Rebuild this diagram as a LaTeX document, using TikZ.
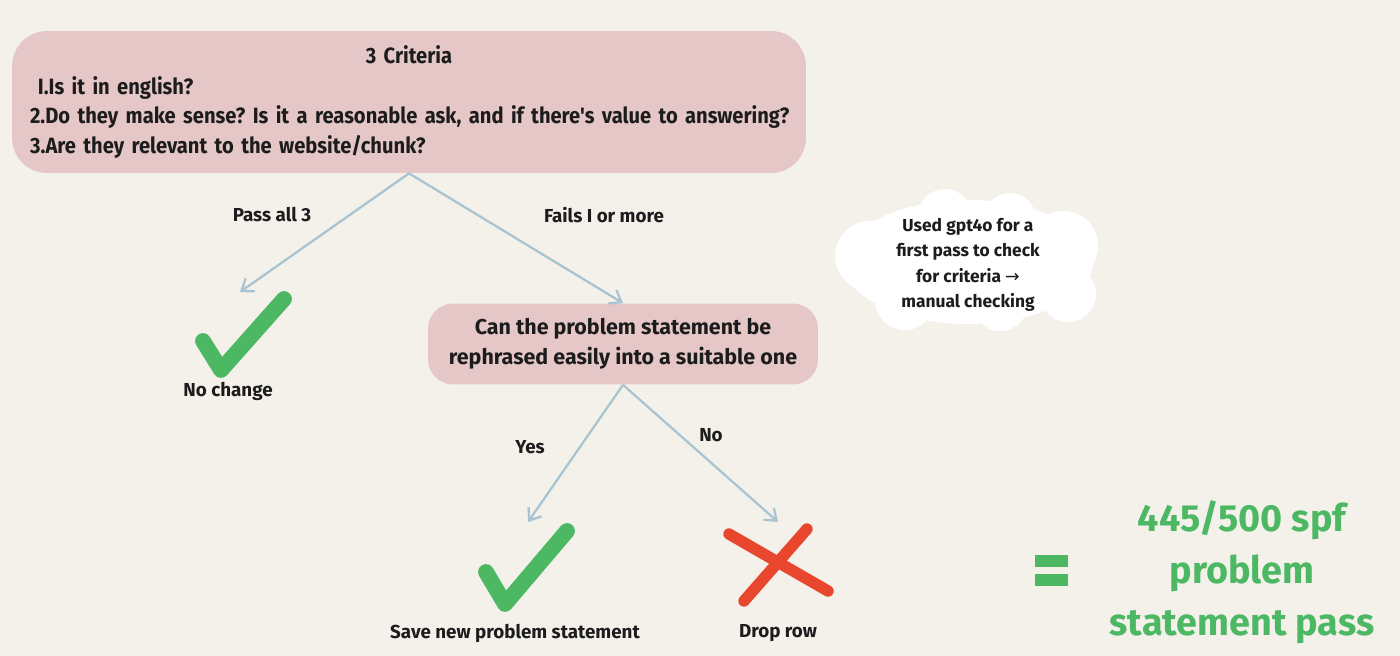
\documentclass[tikz,border=0pt]{standalone}
\usepackage{fontspec}
\setmainfont{Fira Sans}
\newfontfamily\condfont{Fira Sans}[FakeStretch=0.91]
\newfontfamily\symfont{DejaVu Sans}
\usetikzlibrary{arrows.meta, positioning}
\usepackage{xcolor}
\frenchspacing

\definecolor{bgcol}{HTML}{F4F1EB}
\definecolor{boxcol}{HTML}{E6C7C7}
\definecolor{arrcol}{HTML}{A8C4D0}
\definecolor{okgreen}{HTML}{4DB863}
\definecolor{badred}{HTML}{E8472E}
\definecolor{inkcol}{HTML}{1C1C1C}

\begin{document}
\begin{tikzpicture}[
x=0.02cm, y=-0.02cm,
box/.style={fill=boxcol,
rectangle,
align=center,
text=inkcol,
font=\bfseries},
label/.style={text=inkcol, font=\bfseries\fontsize{10.7}{12}\selectfont},
arrow/.style={-{Straight Barb[length=6pt,width=9pt]}, arrcol, line width=1.3pt},
tick/.style={okgreen, line width=9pt, line cap=round, line join=round},
cross/.style={badred, line width=6.5pt, line cap=round}
]

\fill[bgcol] (0,0) rectangle (1400,656);
\useasboundingbox (0,0) rectangle (1400,656);

\node[box, rounded corners=0.7cm, minimum width=15.88cm, minimum height=2.84cm,
  text width=15.16cm, align=left, inner sep=0pt,
  font=\condfont\bfseries\fontsize{12.6}{16.6}\selectfont] (crit) at (409,102)
  {\makebox[\linewidth][c]{3 Criteria}\\[1pt]
   \hspace*{4.5pt}I.Is it in english?\\
   \mbox{2.Do they make sense? Is it a reasonable ask, and if there's value to answering?}\\
   3.Are they relevant to the website/chunk?};

\node[box, rounded corners=0.5cm, minimum width=7.8cm, minimum height=1.62cm,
  font=\bfseries\fontsize{12.2}{17}\selectfont] (rephrase) at (623,344)
  {Can the problem statement be\\ rephrased easily into a suitable one};

% cloud behind the note
\fill[white] (968,262) ellipse [x radius=125, y radius=62];
\foreach \cx/\cy/\r in {945/216/27, 1010/219/26, 1063/246/35, 870/256/35,
  1068/294/28, 905/300/30, 1000/303/28}
  \fill[white] (\cx,\cy) circle [radius=\r];

\node[align=center, text=inkcol, font=\bfseries\fontsize{9.9}{14.5}\selectfont] (note) at (968,265)
  {Used gpt4o for a\\ first pass to check\\ for criteria {\symfont\mdseries →}\\ manual checking};

% end points of the branches
\coordinate (passend) at (240,292);
\coordinate (yesend) at (528,522);
\coordinate (noend) at (778,522);

\draw[arrow] (crit.south) -- (passend);
\draw[arrow] (crit.south) -- (rephrase.north);
\draw[arrow] (rephrase.south) -- (yesend);
\draw[arrow] (rephrase.south) -- (noend);

\node[label] (passlbl) at (272,215) {Pass all 3};
\node[label] (faillbl) at (604,215) {Fails I or more};
\node[label] (yeslbl) at (530,447) {Yes};
\node[label] (nolbl) at (711,435) {No};

% marks
\draw[tick] (203,341) -- (221,370) -- (284,299);
\draw[tick] (486,572) -- (505,604) -- (567,531);
\draw[cross] (729,534) -- (828,591);
\draw[cross] (807,529) -- (744,601);

\node[label] (nochange) at (228,391) {No change};
\node[label] (savenew) at (515,633) {Save new problem statement};
\node[label] (droprow) at (778,633) {Drop row};

% result
\draw[okgreen, line width=7pt] (1035,561) -- (1068,561);
\draw[okgreen, line width=7pt] (1035,580) -- (1068,580);
\node[text=okgreen, align=center, font=\bfseries\fontsize{21.5}{29.5}\selectfont] (result) at (1242,572)
  {445/500 spf\\ problem\\ statement pass};

\end{tikzpicture}
\end{document}
